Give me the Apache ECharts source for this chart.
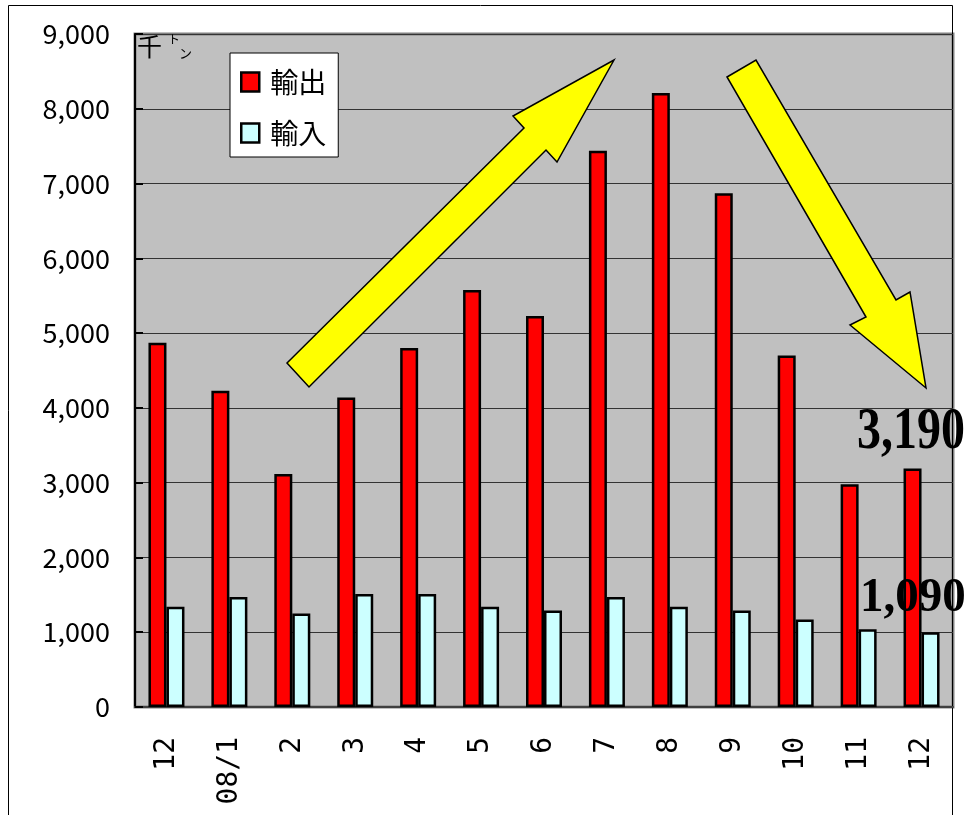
<!DOCTYPE html>
<html>
<head>
<meta charset="utf-8">
<script src="https://cdn.jsdelivr.net/npm/echarts@6/dist/echarts.min.js"></script>
<style>
  html, body { margin: 0; padding: 0; background: #fff; }
  #chart { width: 965px; height: 815px; }
</style>
</head>
<body>
<div id="chart"></div>
<script>
  // 月別 輸出入量 (千トン)
  const months = ['12', '08/1', '2', '3', '4', '5', '6', '7', '8', '9', '10', '11', '12'];
  const exportsT = [4870, 4230, 3115, 4140, 4800, 5575, 5230, 7440, 8210, 6870, 4700, 2980, 3190];
  const importsT = [1340, 1470, 1250, 1510, 1510, 1340, 1290, 1470, 1340, 1290, 1170, 1040, 1000];
  const seriesNames = ['輸出', '輸入'];
  const lastExportLabel = '3,190';
  const lastImportLabel = '1,090';

  const chart = echarts.init(document.getElementById('chart'));

  const upArrow = [[287, 363], [524, 128], [513, 116], [614, 60], [557, 162], [546, 150], [309, 387]];
  const downArrow = [[727, 77], [756, 60], [896, 300], [910, 292], [926, 388], [850, 325], [866, 317]];

  const option = {
    backgroundColor: '#ffffff',
    animation: false,
    grid: {
      left: 135,
      top: 34,
      right: 12,
      bottom: 108,
      show: true,
      backgroundColor: '#c0c0c0',
      borderColor: '#808080',
      borderWidth: 3
    },
    legend: {
      data: seriesNames,
      orient: 'vertical',
      left: 230,
      top: 53,
      backgroundColor: '#ffffff',
      borderColor: '#000000',
      borderWidth: 1,
      padding: [15, 12, 10, 10],
      itemWidth: 18,
      itemHeight: 19,
      itemGap: 23,
      icon: 'rect',
      itemStyle: { borderColor: '#000', borderWidth: 2.5 },
      textStyle: {
        fontFamily: 'Noto Sans CJK JP',
        fontSize: 28,
        color: '#000',
        padding: [0, 0, 0, 6]
      }
    },
    xAxis: {
      type: 'category',
      data: months,
      axisLine: { lineStyle: { color: '#404040', width: 2 } },
      axisTick: { inside: true, length: 6, lineStyle: { color: '#404040', width: 1 } },
      axisLabel: {
        rotate: 90,
        margin: 30,
        fontFamily: 'DejaVu Sans Mono',
        fontSize: 28,
        color: '#000'
      },
      splitLine: { show: false }
    },
    yAxis: {
      type: 'value',
      min: 0,
      max: 9000,
      interval: 1000,
      axisLine: { show: true, lineStyle: { color: '#000', width: 2 } },
      axisTick: { show: true, inside: true, length: 8, lineStyle: { color: '#000', width: 2 } },
      axisLabel: {
        margin: 25,
        fontFamily: 'Noto Sans CJK JP',
        fontSize: 27,
        color: '#000'
      },
      splitLine: { lineStyle: { color: '#333333', width: 1 } }
    },
    series: [
      {
        name: seriesNames[0],
        type: 'bar',
        data: exportsT,
        barWidth: 18,
        barGap: '0%',
        itemStyle: { color: '#ff0000', borderColor: '#000', borderWidth: 2.5 }
      },
      {
        name: seriesNames[1],
        type: 'bar',
        data: importsT,
        barWidth: 18,
        barGap: '0%',
        itemStyle: { color: '#ccffff', borderColor: '#000', borderWidth: 2.5 }
      }
    ],
    graphic: [
      {
        type: 'rect',
        silent: true,
        z: 0,
        shape: { x: 8.5, y: 5.5, width: 944, height: 830 },
        style: { fill: 'none', stroke: '#000', lineWidth: 1 }
      },
      {
        type: 'polygon',
        z: 50,
        shape: { points: upArrow },
        style: { fill: '#ffff00', stroke: '#000', lineWidth: 1.5 }
      },
      {
        type: 'polygon',
        z: 50,
        shape: { points: downArrow },
        style: { fill: '#ffff00', stroke: '#000', lineWidth: 1.5 }
      },
      {
        type: 'text',
        z: 60,
        left: 137,
        top: 34,
        style: { text: '千', fontFamily: 'Noto Sans CJK JP', fontSize: 25, fill: '#000' }
      },
      {
        type: 'text',
        z: 60,
        left: 168,
        top: 33,
        style: { text: 'ト', fontFamily: 'Noto Sans CJK JP', fontSize: 12, fill: '#000' }
      },
      {
        type: 'text',
        z: 60,
        left: 179,
        top: 47,
        style: { text: 'ン', fontFamily: 'Noto Sans CJK JP', fontSize: 13, fill: '#000' }
      },
      {
        type: 'text',
        z: 60,
        x: 857,
        y: 402,
        scaleY: 1.25,
        style: { text: lastExportLabel, fontFamily: 'Liberation Serif', fontWeight: 'bold', fontSize: 48, fill: '#000' }
      },
      {
        type: 'text',
        z: 60,
        x: 860,
        y: 574,
        scaleY: 1.05,
        style: { text: lastImportLabel, fontFamily: 'Liberation Serif', fontWeight: 'bold', fontSize: 47, fill: '#000' }
      }
    ]
  };

  chart.setOption(option);
</script>
</body>
</html>
